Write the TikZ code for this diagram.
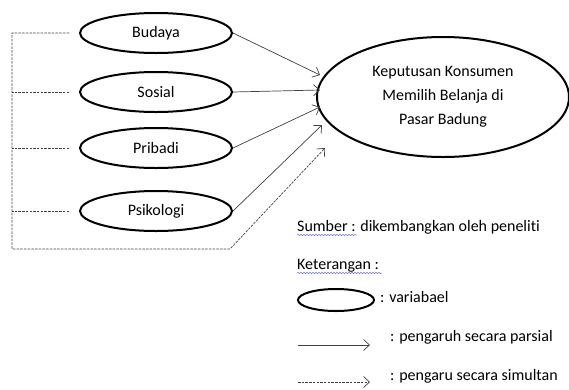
\documentclass[tikz,border=0pt]{standalone}
\usepackage{fontspec}
\setmainfont{Carlito}[Ligatures=NoCommon]
\usepackage{tikz}
\usetikzlibrary{arrows.meta,positioning,calc,shapes.geometric,decorations.pathmorphing}

\tikzset{
  var/.style={ellipse,draw,line width=2pt,inner sep=0pt,minimum width=152pt,minimum height=40pt},
  parsial/.style={draw=black!75,line width=0.7pt,-{Straight Barb[length=6pt,width=11pt]}},
  simul/.style={draw=black!75,line width=0.7pt,dash pattern=on 2.5pt off 1.2pt},
  ket/.style={anchor=west,inner sep=0pt},
  wavy/.style={draw=blue!55,line width=0.5pt,decorate,decoration={snake,amplitude=0.8pt,segment length=3pt}}
}

\begin{document}
\begin{tikzpicture}[x=1pt,y=-1pt,font=\fontsize{16}{19}\selectfont]
  \useasboundingbox (0,0) rectangle (569,389);
  % variables
  \node[var] (bud) at (156,33) {Budaya};
  \node[var] (sos) at (156,92) {Sosial};
  \node[var] (pri) at (156,148) {Pribadi};
  \node[var] (psi) at (156,211) {Psikologi};
  \node[var,minimum width=252pt,minimum height=120pt,align=center] (kep) at (443,97)
    {Keputusan Konsumen\\[5pt]Memilih Belanja di\\[5pt]Pasar Badung};

  % partial arrows
  \coordinate (in1) at (320,75);
  \coordinate (in2) at (320,90);
  \coordinate (in3) at (320,107);
  \coordinate (in4) at (322,125);
  \coordinate (in5) at (325,148);
  \draw[parsial] (bud.east) -- (in1);
  \draw[parsial] (sos.east) -- (in2);
  \draw[parsial] (pri.east) -- (in3);
  \draw[parsial] (psi.east) -- (in4);

  % simultaneous bracket
  \coordinate (lft) at (12,249);
  \coordinate (bend) at (230,249);
  \draw[simul,-{Straight Barb[length=6pt,width=11pt]}] ([xshift=-10pt]bud.west) -| (lft) -- (bend) -- (in5);
  \draw[simul] ([xshift=-10pt]sos.west) -- (sos.west -| lft);
  \draw[simul] ([xshift=-10pt]pri.west) -- (pri.west -| lft);
  \draw[simul] ([xshift=-10pt]psi.west) -- (psi.west -| lft);

  % source and legend
  \node[ket] (sumber) at (297,227) {Sumber : dikembangkan oleh peneliti};
  \node[ket] (keter) at (297,266) {Keterangan :};
  \draw[wavy] (297,235) -- (357,235);
  \draw[wavy] (297,273) -- (382,273);
  \node[var,minimum width=76pt,minimum height=22pt] (lvar) at (336,300) {};
  \node[ket] (tvar) at (380,297) {: variabael};
  \coordinate (pa) at (298,345);
  \coordinate (pb) at (370,345);
  \draw[parsial] (pa) -- (pb);
  \node[ket] (tpar) at (390,337) {: pengaruh secara parsial};
  \coordinate (sa) at (298,382);
  \coordinate (sb) at (370,382);
  \draw[simul,-{Straight Barb[length=6pt,width=11pt]}] (sa) -- (sb);
  \node[ket] (tsim) at (390,376) {: pengaru secara simultan};
\end{tikzpicture}
\end{document}
